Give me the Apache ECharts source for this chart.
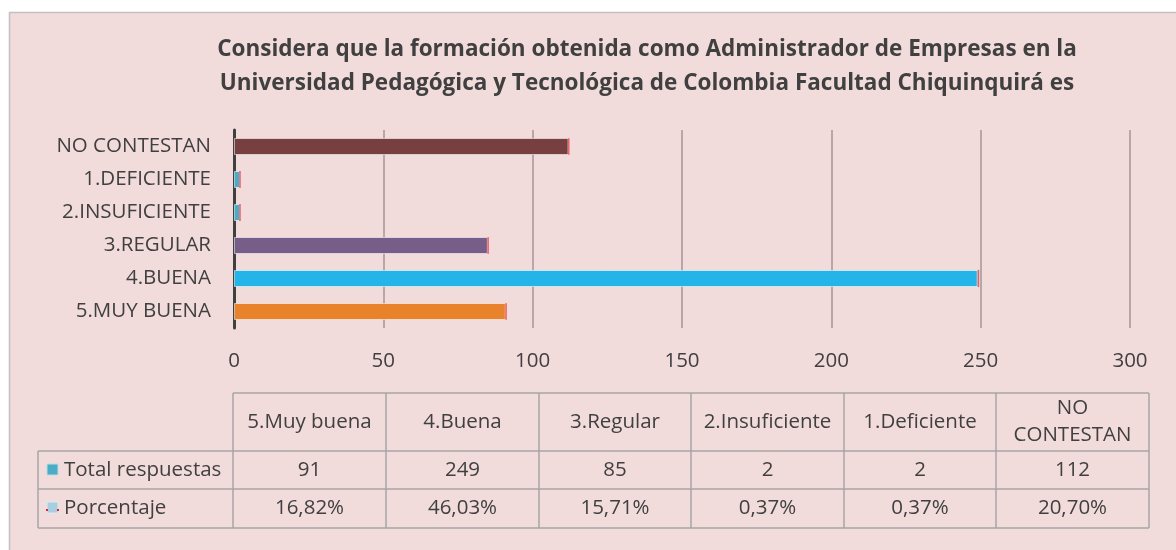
<!DOCTYPE html>
<html>
<head>
<meta charset="utf-8">
<script src="https://cdn.jsdelivr.net/npm/echarts@6/dist/echarts.min.js"></script>
<style>
  html, body { margin: 0; padding: 0; background: #fff; }
  #chart-root { width: 1176px; height: 550px; }
</style>
</head>
<body>
<div id="chart-root"></div>
<script>
// categories bottom -> top (echarts category axis starts at the bottom)
const categories = ["5.MUY BUENA", "4.BUENA", "3.REGULAR", "2.INSUFICIENTE", "1.DEFICIENTE", "NO CONTESTAN"];
const totalRespuestas = [91, 249, 85, 2, 2, 112];
const porcentaje = [0.1682, 0.4603, 0.1571, 0.0037, 0.0037, 0.2070];
const barColors = ["#E8822B", "#23B5E8", "#765E88", "#4BACC6", "#4BACC6", "#773F3F"];
const xTicks = [0, 50, 100, 150, 200, 250, 300];

// data table below the chart
const tableHeaders = ["5.Muy buena", "4.Buena", "3.Regular", "2.Insuficiente", "1.Deficiente", "NO\nCONTESTAN"];
const tableTotals = ["91", "249", "85", "2", "2", "112"];
const tablePercents = ["16,82%", "46,03%", "15,71%", "0,37%", "0,37%", "20,70%"];
const rowLabels = ["Total respuestas", "Porcentaje"];

const FONT = "'Open Sans'";
const TXT = "#404040";
const LINE = "#A6A6A6";

let chart = echarts.init(document.getElementById("chart-root"));

// table geometry
const colX = [233, 386, 539, 691, 844, 996, 1149];
const rowY = [393, 451, 489, 528];
const labelX = 38;

let graphics = [];
// panel background
graphics.push({
  type: "rect", z: -10, silent: true,
  shape: { x: 9.5, y: 12.5, width: 1200, height: 600 },
  style: { fill: "#F2DCDB", stroke: "#C4C0C0", lineWidth: 1.5 }
});
// horizontal lines
graphics.push({ type: "line", shape: { x1: colX[0], y1: rowY[0], x2: colX[6], y2: rowY[0] }, style: { stroke: LINE, lineWidth: 1.5 } });
for (let r = 1; r < rowY.length; r++) {
  graphics.push({ type: "line", shape: { x1: labelX, y1: rowY[r], x2: colX[6], y2: rowY[r] }, style: { stroke: LINE, lineWidth: 1.5 } });
}
// vertical lines
graphics.push({ type: "line", shape: { x1: labelX, y1: rowY[1], x2: labelX, y2: rowY[3] }, style: { stroke: LINE, lineWidth: 1.5 } });
colX.forEach(x => {
  graphics.push({ type: "line", shape: { x1: x, y1: rowY[0], x2: x, y2: rowY[3] }, style: { stroke: LINE, lineWidth: 1.5 } });
});
// cell texts
const rows = [tableHeaders, tableTotals, tablePercents];
rows.forEach((row, r) => {
  row.forEach((t, c) => {
    graphics.push({
      type: "text",
      style: {
        text: t, x: (colX[c] + colX[c + 1]) / 2, y: (rowY[r] + rowY[r + 1]) / 2,
        align: "center", verticalAlign: "middle",
        font: "20.5px " + FONT, fill: TXT, lineHeight: 27
      }
    });
  });
});
// row labels with legend keys
rowLabels.forEach((t, r) => {
  let cy = (rowY[r + 1] + rowY[r + 2]) / 2;
  graphics.push({
    type: "text",
    style: { text: t, x: 64, y: cy, align: "left", verticalAlign: "middle", font: "20.5px " + FONT, fill: TXT }
  });
});
graphics.push({ type: "rect", shape: { x: 47, y: 464, width: 11, height: 11 }, style: { fill: "#4BACC6", stroke: "#B7DDE8", lineWidth: 1 } });
graphics.push({ type: "rect", shape: { x: 47, y: 502, width: 11, height: 11 }, style: { fill: "#A9CEE0", stroke: "#DCEBF3", lineWidth: 1 } });
graphics.push({ type: "rect", shape: { x: 46, y: 509, width: 2, height: 2 }, style: { fill: "#E8202A" } });
graphics.push({ type: "rect", shape: { x: 57, y: 509, width: 2, height: 2 }, style: { fill: "#E8202A" } });

let option = {
  animation: false,
  backgroundColor: "#FFFFFF",
  title: {
    text: "Considera que la formación obtenida como Administrador de Empresas en la\nUniversidad Pedagógica y Tecnológica de Colombia Facultad Chiquinquirá es",
    left: 642,
    top: 28,
    textAlign: "center",
    textStyle: { fontFamily: "Open Sans", fontSize: 22.5, fontWeight: "bold", color: TXT, lineHeight: 34 }
  },
  grid: { left: 234, right: 46, top: 130, height: 198, containLabel: false },
  xAxis: {
    type: "value",
    min: 0, max: 300, interval: 50,
    axisLine: { show: false },
    axisTick: { show: false },
    axisLabel: {
      margin: 23, fontFamily: "Open Sans", fontSize: 20.5, color: TXT,
      formatter: v => xTicks.includes(v) ? String(v) : ""
    },
    splitLine: { show: true, lineStyle: { color: "#A39696", width: 1.5 } }
  },
  yAxis: {
    type: "category",
    data: categories,
    axisLine: { show: true, lineStyle: { color: "#404040", width: 3 } },
    axisTick: { show: false },
    axisLabel: { margin: 23, fontFamily: "Open Sans", fontSize: 20.5, color: TXT }
  },
  series: [
    {
      name: "Total respuestas",
      type: "bar",
      stack: "total",
      barWidth: 17,
      data: totalRespuestas.map((v, i) => ({ value: v, itemStyle: { color: barColors[i] } })),
      itemStyle: { borderColor: "rgba(255,255,255,0.55)", borderWidth: 1 }
    },
    {
      name: "Porcentaje",
      type: "bar",
      stack: "total",
      barWidth: 17,
      data: porcentaje,
      itemStyle: { color: "#A9CEE0", borderColor: "#E8202A", borderWidth: 0.6 }
    }
  ],
  graphic: graphics
};

chart.setOption(option);
</script>
</body>
</html>
